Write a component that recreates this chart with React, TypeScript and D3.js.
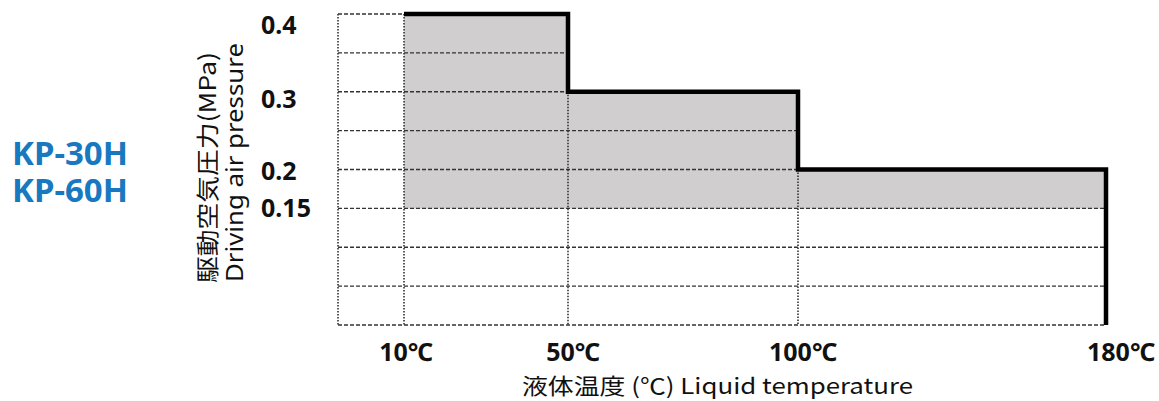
import * as d3 from 'd3'

// operating range: temperature breakpoints and max pressure per step
const stepTemps = [10, 50, 100, 180]
const stepPressures = [0.4, 0.3, 0.2]
const minPressure = 0.15
const floorPressure = 0

const gridPressures = [0, 0.05, 0.1, 0.15, 0.2, 0.25, 0.3, 0.35, 0.4]
const gridTemps = [0, 10, 50, 100]

const yTicks = [0.4, 0.3, 0.2, 0.15]
const yTickLabels = ['0.4', '0.3', '0.2', '0.15']
const xTicks = [10, 50, 100, 180]
const xTickLabels = ['10℃', '50℃', '100℃', '180℃']

const models = ['KP-30H', 'KP-60H']

// small label nudges (px) to sit like the original
const yLabelDy = [20, 16, 10, 9]
const xLabelDx = [2, 5, 5, 15]

const W = 1159
const H = 401

const font = '"Noto Sans", "Noto Sans CJK JP", sans-serif'
const cjkFont = '"Noto Sans CJK JP", "Noto Sans", sans-serif'

export default function App() {
  // x axis is not linear in the original, so map the breakpoints piecewise
  const x = d3.scaleLinear().domain([0, 10, 50, 100, 180]).range([338, 404, 568, 798, 1106])
  const y = d3.scaleLinear().domain([0, 0.4]).range([325, 14])

  const pts: [number, number][] = stepTemps.map((t, i) => [t, stepPressures[Math.min(i, stepPressures.length - 1)]])

  const area = d3.area<[number, number]>()
    .x(d => x(d[0]))
    .y0(y(minPressure))
    .y1(d => y(d[1]))
    .curve(d3.curveStepAfter)

  const line = d3.line<[number, number]>()
    .x(d => x(d[0]))
    .y(d => y(d[1]))
    .curve(d3.curveStepAfter)

  const linePts: [number, number][] = [...pts, [stepTemps[stepTemps.length - 1], floorPressure]]

  // grid lines stop at the envelope
  const reach = (p: number) => {
    for (let i = stepPressures.length - 1; i >= 0; i--) {
      if (stepPressures[i] >= p - 1e-9) return stepTemps[i + 1]
    }
    return stepTemps[0]
  }
  const ceiling = (t: number) => {
    const touching = stepPressures.filter((_, i) => stepTemps[i] <= t && t <= stepTemps[i + 1])
    return touching.length ? Math.min(...touching) : d3.max(stepPressures)!
  }

  return (
    <svg width={W} height={H} style={{ position: 'absolute', left: 0, top: 0, background: '#fff' }}>
      {models.map((m, i) => (
        <text key={m} x={12} y={165 + i * 37} fill="#1878c0" fontFamily={font} fontWeight={700} fontSize={33}>
          {m}
        </text>
      ))}

      <path d={area(pts) || ''} fill="#d0cece" />

      {gridPressures.map(p => (
        <line key={'h' + p} x1={x(0)} x2={x(reach(p))} y1={y(p)} y2={y(p)}
          stroke="#333" strokeWidth={1.3} strokeDasharray="4 2" />
      ))}
      {gridTemps.map(t => (
        <line key={'v' + t} x1={x(t)} x2={x(t)} y1={y(ceiling(t))} y2={y(0)}
          stroke="#333" strokeWidth={1.6} strokeDasharray="1.6 1.4" />
      ))}

      <path d={line(linePts) || ''} fill="none" stroke="#000" strokeWidth={4.5} strokeLinejoin="miter" />

      {yTicks.map((v, i) => (
        <text key={'yl' + v} x={261} y={y(v) + yLabelDy[i]} fontFamily={font} fontWeight={700} fontSize={25} fill="#111">
          {yTickLabels[i]}
        </text>
      ))}

      {xTicks.map((t, i) => (
        <text key={'xl' + t} x={x(t) + xLabelDx[i]} y={361} textAnchor="middle" fontFamily={font} fontWeight={700} fontSize={25} fill="#111">
          {xTickLabels[i]}
        </text>
      ))}

      <text transform="translate(216,283) rotate(-90)" fontFamily={cjkFont} fontSize={23} fill="#111"
        textLength={231} lengthAdjust="spacingAndGlyphs">
        駆動空気圧力(MPa)
      </text>
      <text transform="translate(243,282) rotate(-90)" fontFamily={font} fontSize={23} fill="#111"
        textLength={239} lengthAdjust="spacingAndGlyphs">
        Driving air pressure
      </text>

      <text x={522} y={394} fontFamily={cjkFont} fontSize={22} fill="#111" textLength={391} lengthAdjust="spacingAndGlyphs">
        液体温度 (℃) Liquid temperature
      </text>
    </svg>
  )
}
